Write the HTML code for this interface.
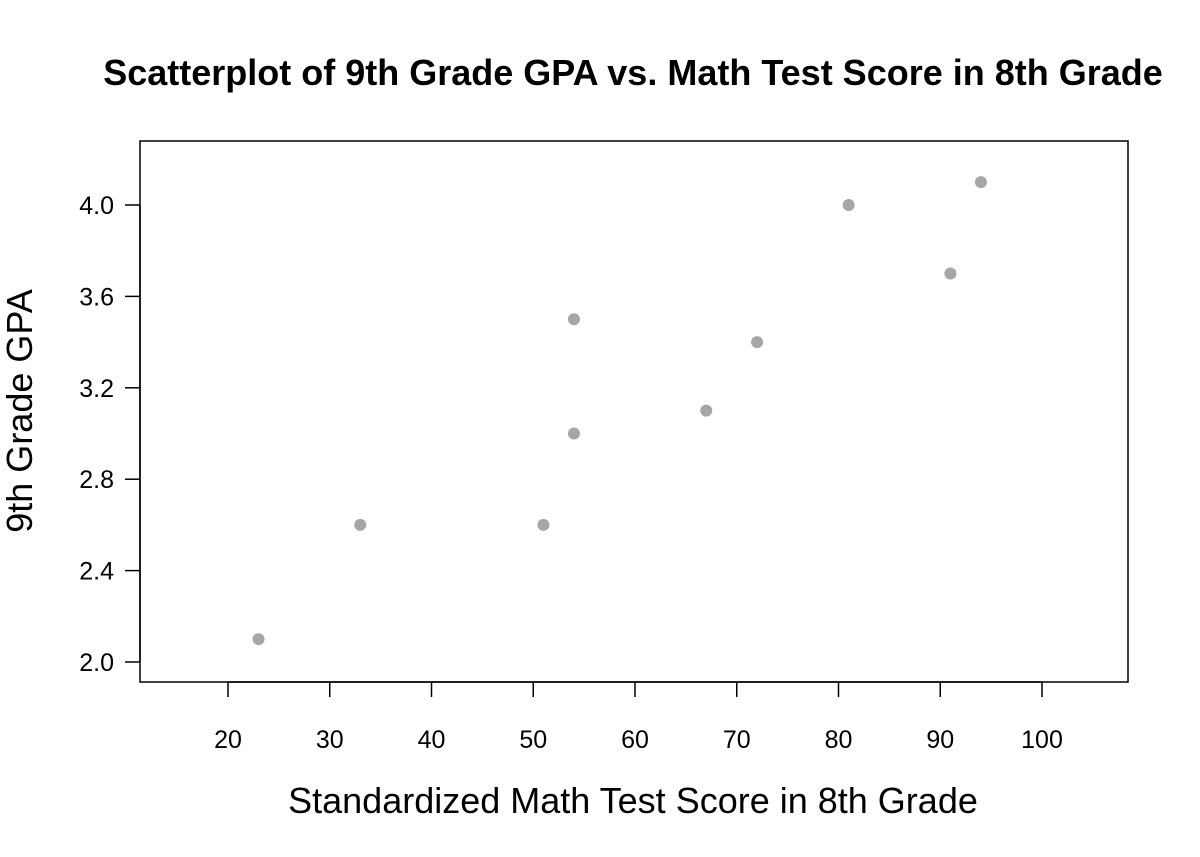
<!DOCTYPE html>
<html><head><meta charset="utf-8"><style>
html,body{margin:0;padding:0;background:#fff;}
svg{display:block;font-family:"Liberation Sans",Arial,sans-serif;}
</style></head><body>
<svg id="chart" width="1200" height="857">
<text x="633" y="85" text-anchor="middle" font-size="36" font-weight="bold">Scatterplot of 9th Grade GPA vs. Math Test Score in 8th Grade</text>
<rect x="140" y="141" width="988" height="541" fill="none" stroke="#000" stroke-width="1.5"/>
<g id="xaxis"></g>
<g id="yaxis"></g>
<g id="points"></g>
<text x="633" y="813" text-anchor="middle" font-size="36">Standardized Math Test Score in 8th Grade</text>
<text transform="translate(32,411) rotate(-90)" text-anchor="middle" font-size="36">9th Grade GPA</text>
</svg>
<script>
const mathScores=[23,33,51,54,54,67,72,81,91,94];
const gpaValues=[2.1,2.6,2.6,3.0,3.5,3.1,3.4,4.0,3.7,4.1];
const xTicks=[20,30,40,50,60,70,80,90,100];
const yTicks=[2.0,2.4,2.8,3.2,3.6,4.0];
const NS="http://www.w3.org/2000/svg";
function xs(v){return 228+(v-20)*10.175;}
function ys(v){return 662-(v-2)*228.5;}
function mk(tag,attrs,parent){const e=document.createElementNS(NS,tag);for(const k in attrs)e.setAttribute(k,attrs[k]);parent.appendChild(e);return e;}
const xa=document.getElementById('xaxis'),ya=document.getElementById('yaxis'),pg=document.getElementById('points');
mk('line',{x1:xs(20),x2:xs(100),y1:682,y2:682,stroke:'#000','stroke-width':1.5},xa);
xTicks.forEach(t=>{
 const l=mk('line',{x1:xs(t),x2:xs(t),y1:682,y2:697,stroke:'#000','stroke-width':1.5},xa);
 
 
 const tx=mk('text',{x:xs(t),y:748,'text-anchor':'middle','font-size':25},xa);tx.textContent=t;
 
 
});
mk('line',{x1:140,x2:140,y1:ys(2),y2:ys(4),stroke:'#000','stroke-width':1.5},ya);
yTicks.forEach(t=>{
 const l=mk('line',{x1:125,x2:140,y1:ys(t),y2:ys(t),stroke:'#000','stroke-width':1.5},ya);
 
 
 const tx=mk('text',{x:114,y:ys(t)+9,'text-anchor':'end','font-size':25},ya);tx.textContent=t.toFixed(1);
 
 
});
mathScores.forEach((m,i)=>{
 const c=mk('circle',{cx:xs(m),cy:ys(gpaValues[i]),r:6,fill:'#a6a6a6'},pg);
 
 
});
</script>
</body></html>
